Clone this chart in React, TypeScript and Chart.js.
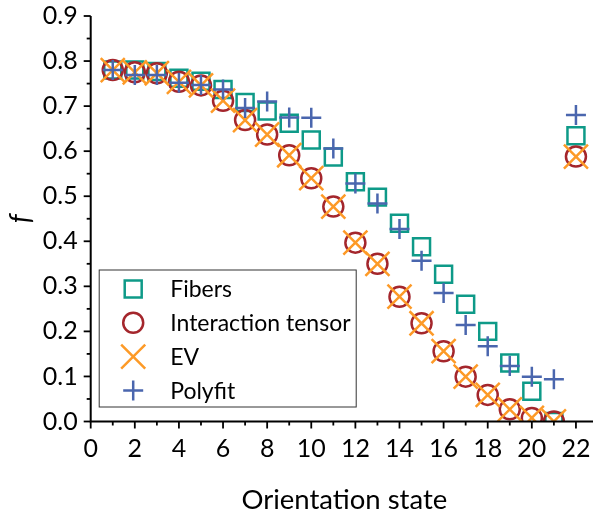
import React, { useEffect, useRef } from 'react';
import { Chart, registerables } from 'chart.js';

Chart.register(...registerables);

const states = [1, 2, 3, 4, 5, 6, 7, 8, 9, 10, 11, 12, 13, 14, 15, 16, 17, 18, 19, 20, 21, 22];
const fibers = [0.78, 0.78, 0.777, 0.762, 0.755, 0.737, 0.708, 0.689, 0.662, 0.625, 0.587, 0.532, 0.498, 0.44, 0.388, 0.327, 0.26, 0.2, 0.13, 0.067, 0.0, 0.634];
const interaction = [0.78, 0.775, 0.773, 0.754, 0.746, 0.712, 0.669, 0.637, 0.591, 0.54, 0.477, 0.397, 0.35, 0.277, 0.218, 0.156, 0.0995, 0.059, 0.027, 0.008, 0.0, 0.588];
const ev = [0.78, 0.775, 0.773, 0.754, 0.746, 0.712, 0.669, 0.637, 0.591, 0.54, 0.477, 0.397, 0.35, 0.277, 0.218, 0.156, 0.0995, 0.059, 0.027, 0.008, 0.0, 0.588];
const polyfit = [0.78, 0.769, 0.769, 0.752, 0.747, 0.737, 0.696, 0.71, 0.675, 0.674, 0.606, 0.528, 0.484, 0.427, 0.357, 0.285, 0.214, 0.167, 0.123, 0.0995, 0.094, 0.68];

const seriesNames = ['Fibers', 'Interaction tensor', 'EV', 'Polyfit'];
const seriesData = [fibers, interaction, ev, polyfit];
const seriesStyles = ['rect', 'circle', 'crossRot', 'cross'];
const seriesColors = ['#0e9a88', '#a4262c', '#fd9a27', '#4a66ae'];
const seriesRadius = [12, 10, 17, 10];

const xTickValues = [0, 1, 2, 3, 4, 5, 6, 7, 8, 9, 10, 11, 12, 13, 14, 15, 16, 17, 18, 19, 20, 21, 22];
const yTickValues = [0, 0.05, 0.1, 0.15, 0.2, 0.25, 0.3, 0.35, 0.4, 0.45, 0.5, 0.55, 0.6, 0.65, 0.7, 0.75, 0.8, 0.85, 0.9];

const FONT = 'Lato, "Open Sans", sans-serif';

function drawMarker(ctx: CanvasRenderingContext2D, style: string, x: number, y: number, r: number) {
  ctx.beginPath();
  if (style === 'rect') {
    const s = Math.SQRT1_2 * r;
    ctx.rect(x - s, y - s, 2 * s, 2 * s);
  } else if (style === 'circle') {
    ctx.arc(x, y, r, 0, Math.PI * 2);
  } else if (style === 'crossRot') {
    const s = Math.SQRT1_2 * r;
    ctx.moveTo(x - s, y - s);
    ctx.lineTo(x + s, y + s);
    ctx.moveTo(x - s, y + s);
    ctx.lineTo(x + s, y - s);
  } else {
    ctx.moveTo(x, y - r);
    ctx.lineTo(x, y + r);
    ctx.moveTo(x - r, y);
    ctx.lineTo(x + r, y);
  }
  ctx.stroke();
}

const axesPlugin = {
  id: 'customAxes',
  afterDatasetsDraw(chart: any) {
    const ctx = chart.ctx as CanvasRenderingContext2D;
    const a = chart.chartArea;
    const xs = chart.scales.x;
    const ys = chart.scales.y;
    ctx.save();
    ctx.strokeStyle = '#000';
    ctx.lineWidth = 2;
    ctx.lineCap = 'butt';
    ctx.beginPath();
    ctx.moveTo(a.left, a.top);
    ctx.lineTo(a.left, a.bottom);
    ctx.lineTo(a.right, a.bottom);
    ctx.stroke();
    ctx.lineWidth = 1.8;
    xTickValues.forEach((v, i) => {
      const px = xs.getPixelForValue(v);
      const len = i % 2 === 0 ? 7 : 4;
      ctx.beginPath();
      ctx.moveTo(px, a.bottom);
      ctx.lineTo(px, a.bottom + len);
      ctx.stroke();
    });
    yTickValues.forEach((v, i) => {
      const py = ys.getPixelForValue(v);
      const len = i % 2 === 0 ? 7 : 4;
      ctx.beginPath();
      ctx.moveTo(a.left, py);
      ctx.lineTo(a.left - len, py);
      ctx.stroke();
    });
    ctx.restore();
  },
  afterDraw(chart: any) {
    const ctx = chart.ctx as CanvasRenderingContext2D;
    const a = chart.chartArea;
    const bx = a.left + 8.5;
    const by = a.bottom - 151.5;
    const bw = 257;
    const bh = 137;
    ctx.save();
    ctx.fillStyle = '#fff';
    ctx.fillRect(bx, by, bw, bh);
    ctx.strokeStyle = '#333';
    ctx.lineWidth = 1;
    ctx.strokeRect(bx, by, bw, bh);
    ctx.font = `23px ${FONT}`;
    ctx.textBaseline = 'middle';
    ctx.textAlign = 'left';
    seriesNames.forEach((name, i) => {
      const cy = by + 19 + i * 33.8;
      ctx.strokeStyle = seriesColors[i];
      ctx.lineWidth = 2.5;
      drawMarker(ctx, seriesStyles[i], bx + 34, cy, seriesRadius[i]);
      ctx.fillStyle = '#000';
      ctx.fillText(name, bx + 71, cy + 1);
    });
    ctx.restore();
  },
};

export default function App() {
  const canvasRef = useRef<HTMLCanvasElement | null>(null);

  useEffect(() => {
    document.body.style.margin = '0';
    const canvas = canvasRef.current;
    if (!canvas) return;
    const datasets = seriesNames.map((name, i) => ({
      label: name,
      data: states.map((s, j) => ({ x: s, y: seriesData[i][j] })),
      pointStyle: seriesStyles[i],
      pointRadius: seriesRadius[i],
      pointHoverRadius: seriesRadius[i],
      pointBorderColor: seriesColors[i],
      pointBackgroundColor: 'rgba(0,0,0,0)',
      pointBorderWidth: 2.5,
      borderColor: seriesColors[i],
      backgroundColor: 'rgba(0,0,0,0)',
      showLine: false,
      order: 4 - i,
      clip: { left: 20, top: 20, right: 20, bottom: 0 },
    }));
    const chart = new Chart(canvas, {
      type: 'scatter',
      data: { datasets },
      options: {
        responsive: false,
        animation: false,
        events: [],
        layout: { autoPadding: false, padding: { top: 16, right: 0, bottom: 0, left: 0 } },
        plugins: {
          legend: { display: false },
          tooltip: { enabled: false },
        },
        scales: {
          x: {
            type: 'linear',
            min: 0,
            max: 23,
            afterBuildTicks: (scale: any) => {
              scale.ticks = xTickValues.map((v) => ({ value: v }));
            },
            afterFit: (scale: any) => {
              scale.height = 96.5;
              scale.paddingLeft = 0;
              scale.paddingRight = 0;
            },
            ticks: {
              autoSkip: false,
              maxRotation: 0,
              minRotation: 0,
              padding: 12,
              color: '#000',
              font: { family: FONT, size: 25 },
              callback: (v: any) => (Number(v) % 2 === 0 ? String(v) : ''),
            },
            grid: { display: false, drawTicks: false },
            border: { display: false },
            title: {
              display: true,
              text: 'Orientation state',
              color: '#000',
              font: { family: FONT, size: 27.5 },
              padding: { top: 0, bottom: 1 },
            },
          },
          y: {
            type: 'linear',
            min: 0,
            max: 0.9,
            afterBuildTicks: (scale: any) => {
              scale.ticks = yTickValues.map((v) => ({ value: v }));
            },
            afterFit: (scale: any) => {
              scale.width = 90.7;
              scale.paddingTop = 0;
              scale.paddingBottom = 0;
            },
            ticks: {
              autoSkip: false,
              padding: 13,
              color: '#000',
              font: { family: FONT, size: 25 },
              callback: (v: any, i: number) => (i % 2 === 0 ? Number(v).toFixed(1) : ''),
            },
            grid: { display: false, drawTicks: false },
            border: { display: false },
            title: {
              display: true,
              text: 'f',
              color: '#000',
              font: { family: FONT, size: 28, style: 'italic' },
              padding: { top: 4, bottom: 0 },
            },
          },
        },
      },
      plugins: [axesPlugin],
    } as any);
    return () => chart.destroy();
  }, []);

  return (
    <div style={{ width: 593, height: 518, overflow: 'hidden', position: 'relative' }}>
      <canvas ref={canvasRef} width={598} height={518} style={{ display: 'block', width: 598, height: 518 }} />
    </div>
  );
}
